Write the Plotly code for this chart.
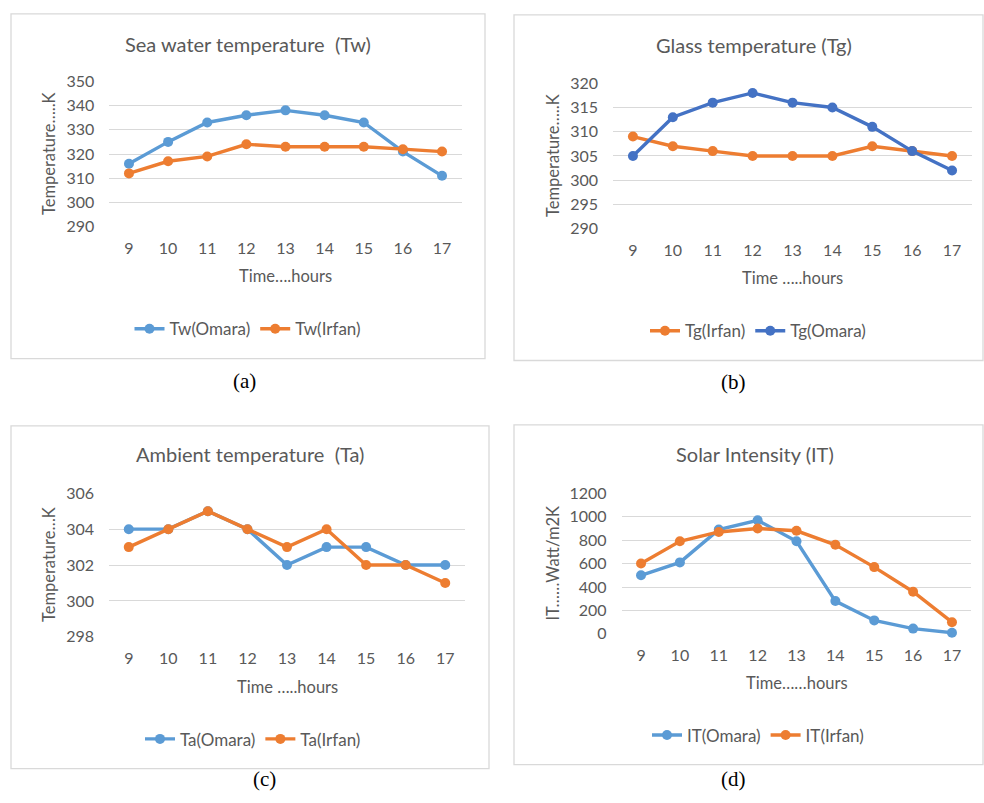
import plotly.graph_objects as go

hours = [9, 10, 11, 12, 13, 14, 15, 16, 17]

tw_omara = [316, 325, 333, 336, 338, 336, 333, 321, 311]
tw_irfan = [312, 317, 319, 324, 323, 323, 323, 322, 321]

tg_irfan = [309, 307, 306, 305, 305, 305, 307, 306, 305]
tg_omara = [305, 313, 316, 318, 316, 315, 311, 306, 302]

ta_omara = [304, 304, 305, 304, 302, 303, 303, 302, 302]
ta_irfan = [303, 304, 305, 304, 303, 304, 302, 302, 301]

it_omara = [500, 610, 890, 970, 790, 280, 115, 45, 10]
it_irfan = [600, 790, 870, 900, 880, 760, 570, 360, 100]

BLUE = "#5B9BD5"
ORANGE = "#ED7D31"
DBLUE = "#4472C4"
GRID = "#D9D9D9"
TXT = "#595959"
FONT = "Lato"

W, H = 984, 803

def px(x):
    return x / W

def py(y):
    return 1 - y / H

panels = [
    dict(title="Sea water temperature  (Tw)", tx=248, ty=35,
         xt="Time….hours", xty=272, yt="Temperature…..K", ytx=49,
         x0=109.4, x1=461.6, ytop=73, ybot=222, yr=[290, 350], dt=10,
         series=[("Tw(Omara)", tw_omara, BLUE), ("Tw(Irfan)", tw_irfan, ORANGE)],
         leg=(248, 327), box=(11, 4, 485, 357), cap="(a)", capxy=(244, 380)),
    dict(title="Glass temperature (Tg)", tx=754, ty=36,
         xt="Time …..hours", xty=275, yt="Temperature…..K", ytx=553,
         x0=613, x1=972, ytop=75, ybot=224, yr=[290, 320], dt=5,
         series=[("Tg(Irfan)", tg_irfan, ORANGE), ("Tg(Omara)", tg_omara, DBLUE)],
         leg=(758, 329), box=(514, 5, 983, 359), cap="(b)", capxy=(733, 381)),
    dict(title="Ambient temperature  (Ta)", tx=250, ty=455,
         xt="Time …..hours", xty=693, yt="Temperature…K", ytx=49,
         x0=109, x1=465, ytop=495, ybot=642, yr=[298, 306], dt=2,
         series=[("Ta(Omara)", ta_omara, BLUE), ("Ta(Irfan)", ta_irfan, ORANGE)],
         leg=(253, 747), box=(11, 426, 489, 777), cap="(c)", capxy=(264, 788)),
    dict(title="Solar Intensity (IT)", tx=755, ty=455,
         xt="Time……hours", xty=689, yt="IT……Watt/m2K", ytx=553,
         x0=621.6, x1=971.4, ytop=495, ybot=639, yr=[0, 1200], dt=200,
         series=[("IT(Omara)", it_omara, BLUE), ("IT(Irfan)", it_irfan, ORANGE)],
         leg=(758, 743), box=(514, 425, 983, 773), cap="(d)", capxy=(733, 788)),
]

fig = go.Figure()
annotations = []
shapes = []
layout_extra = {}

for i, p in enumerate(panels):
    n = "" if i == 0 else str(i + 1)
    legname = "legend" + n
    for name, vals, col in p["series"]:
        fig.add_trace(go.Scatter(
            x=hours, y=vals, name=name, mode="lines+markers",
            line=dict(color=col, width=3.4),
            marker=dict(color=col, size=10, symbol="circle"),
            xaxis="x" + n, yaxis="y" + n, legend=legname, cliponaxis=False,
        ))
    layout_extra["xaxis" + n] = dict(
        domain=[px(p["x0"]), px(p["x1"])], anchor="y" + n,
        range=[8.5, 17.5], tickmode="array", tickvals=hours,
        ticktext=[str(h) for h in hours], showgrid=False, zeroline=False,
        showline=False, ticks="", ticklabelstandoff=10,
        tickfont=dict(family=FONT, size=16, color=TXT), fixedrange=True,
    )
    layout_extra["yaxis" + n] = dict(
        domain=[py(p["ybot"]), py(p["ytop"])], anchor="x" + n,
        range=p["yr"], dtick=p["dt"], tick0=p["yr"][0], showgrid=True,
        gridcolor=GRID, gridwidth=1.3, zeroline=False, showline=False, ticks="",
        ticklabelstandoff=14,
        tickfont=dict(family=FONT, size=16, color=TXT), fixedrange=True,
    )
    layout_extra[legname] = dict(
        orientation="h", x=px(p["leg"][0]), y=py(p["leg"][1]),
        xanchor="center", yanchor="middle",
        font=dict(family=FONT, size=17, color=TXT), bgcolor="rgba(0,0,0,0)",
        tracegroupgap=0,
    )
    annotations.append(dict(text=p["title"], x=px(p["tx"]), y=py(p["ty"]),
                            xref="paper", yref="paper", showarrow=False,
                            xanchor="center", yanchor="middle",
                            font=dict(family=FONT, size=20, color=TXT)))
    annotations.append(dict(text=p["xt"], x=px((p["x0"] + p["x1"]) / 2), y=py(p["xty"]),
                            xref="paper", yref="paper", showarrow=False,
                            xanchor="center", yanchor="middle",
                            font=dict(family=FONT, size=16.5, color=TXT)))
    annotations.append(dict(text=p["yt"], x=px(p["ytx"]), y=py((p["ytop"] + p["ybot"]) / 2),
                            xref="paper", yref="paper", showarrow=False, textangle=-90,
                            xanchor="center", yanchor="middle",
                            font=dict(family=FONT, size=16.5, color=TXT)))
    annotations.append(dict(text=p["cap"], x=px(p["capxy"][0]), y=py(p["capxy"][1]),
                            xref="paper", yref="paper", showarrow=False,
                            xanchor="center", yanchor="middle",
                            font=dict(family="Liberation Serif", size=21, color="#000000")))
    bx0, by0, bx1, by1 = p["box"]
    shapes.append(dict(type="rect", xref="paper", yref="paper",
                       x0=px(bx0), x1=px(bx1), y0=py(by1), y1=py(by0),
                       line=dict(color=GRID, width=1.3), layer="below"))

fig.update_layout(
    width=W, height=H, margin=dict(l=0, r=0, t=0, b=0),
    paper_bgcolor="white", plot_bgcolor="white",
    annotations=annotations, shapes=shapes, showlegend=True,
    **layout_extra,
)

post = ("document.body.style.margin='0';document.body.style.overflow='hidden';"
        "var d=document.getElementById('{plot_id}');d.style.position='absolute';"
        "d.style.left='0px';d.style.top='0px';")
fig.write_html("out.html", post_script=post, config={"displayModeBar": False})
